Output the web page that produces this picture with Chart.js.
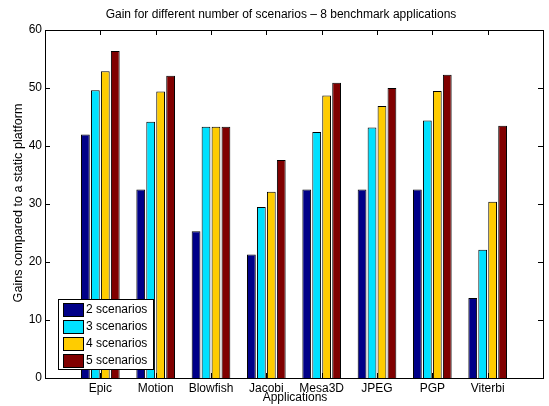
<!DOCTYPE html>
<html>
<head>
<meta charset="utf-8">
<script src="https://cdn.jsdelivr.net/npm/chart.js@4"></script>
<style>
  html, body { margin: 0; padding: 0; background: #fff; }
  #wrap { width: 549px; height: 406px; }
</style>
</head>
<body>
<div id="wrap"><canvas id="myChart" width="549" height="406"></canvas></div>
<script>
// data
var apps = ['Epic', 'Motion', 'Blowfish', 'Jacobi', 'Mesa3D', 'JPEG', 'PGP', 'Viterbi']
var seriesNames = ['2 scenarios', '3 scenarios', '4 scenarios', '5 scenarios']
var s2 = [42.0, 32.5, 25.3, 21.3, 32.5, 32.5, 32.5, 13.8]
var s3 = [49.6, 44.2, 43.3, 29.5, 42.4, 43.2, 44.4, 22.1]
var s4 = [52.9, 49.4, 43.3, 32.1, 48.7, 46.9, 49.5, 30.4]
var s5 = [56.4, 52.1, 43.3, 37.6, 50.9, 50.0, 52.3, 43.5]
var yTicks = [0, 10, 20, 30, 40, 50, 60]

var colors = ['#000088', '#00E1FF', '#FFCC00', '#800000']
var fonte = '"Liberation Sans", Arial, Helvetica, sans-serif'

function pontos(vals){
    return vals.map(function(v, i){ return {x: i + 1, y: v} })
}

var datasets = [s2, s3, s4, s5].map(function(vals, k){
    return {
        label: seriesNames[k],
        data: pontos(vals),
        backgroundColor: colors[k],
        borderColor: '#000',
        borderWidth: 1,
        categoryPercentage: 0.72,
        barPercentage: 0.88
    }
})

// box, inward ticks, titles and legend (matlab style)
var extras = {
    id: 'extras',
    afterDraw: function(chart){
        var ctx = chart.ctx
        var a = chart.chartArea
        var xs = chart.scales.x
        var ys = chart.scales.y
        ctx.save()
        ctx.strokeStyle = '#000'
        ctx.lineWidth = 1
        ctx.strokeRect(Math.round(a.left) + 0.5, Math.round(a.top) + 0.5,
            Math.round(a.right - a.left), Math.round(a.bottom - a.top))
        ctx.beginPath()
        yTicks.forEach(function(t){
            var y = Math.round(ys.getPixelForValue(t)) + 0.5
            ctx.moveTo(a.left, y); ctx.lineTo(a.left + 5, y)
            ctx.moveTo(a.right, y); ctx.lineTo(a.right - 5, y)
        })
        apps.forEach(function(n, i){
            var x = Math.round(xs.getPixelForValue(i + 1)) + 0.5
            ctx.moveTo(x, a.top); ctx.lineTo(x, a.top + 5)
            ctx.moveTo(x, a.bottom); ctx.lineTo(x, a.bottom - 5)
        })
        ctx.stroke()

        ctx.fillStyle = '#000'
        ctx.font = '12px ' + fonte
        ctx.textAlign = 'center'
        ctx.textBaseline = 'middle'
        ctx.fillText('Gain for different number of scenarios \u2013 8 benchmark applications', 281, 15)
        ctx.fillText('Applications', 295, 398)
        ctx.save()
        ctx.font = '12.6px ' + fonte
        ctx.translate(19, 203)
        ctx.rotate(-Math.PI / 2)
        ctx.fillText('Gains compared to a static platform', 0, 0)
        ctx.restore()

        // legenda
        ctx.fillStyle = '#fff'
        ctx.fillRect(58, 299, 95, 70)
        ctx.strokeRect(58.5, 299.5, 95, 70)
        ctx.textAlign = 'left'
        seriesNames.forEach(function(n, k){
            var y = 303 + k * 17
            ctx.fillStyle = colors[k]
            ctx.fillRect(63, y, 20, 13)
            ctx.strokeRect(63.5, y + 0.5, 20, 13)
            ctx.fillStyle = '#000'
            ctx.fillText(n, 86, y + 7)
        })
        ctx.restore()
    }
}

new Chart(document.getElementById('myChart'), {
    type: 'bar',
    data: { datasets: datasets },
    options: {
        responsive: false,
        animation: false,
        layout: { padding: { top: 30, right: 6, left: 0, bottom: 0 } },
        plugins: {
            legend: { display: false },
            title: { display: false },
            tooltip: { enabled: false }
        },
        scales: {
            x: {
                type: 'linear',
                min: 0,
                max: 9,
                offset: false,
                grid: { display: false, drawTicks: false },
                border: { display: false },
                ticks: {
                    stepSize: 1,
                    autoSkip: false,
                    maxRotation: 0,
                    padding: 3,
                    color: '#000',
                    font: { size: 12, family: fonte },
                    callback: function(v){ return (v >= 1 && v <= 8) ? apps[v - 1] : '' }
                },
                afterFit: function(s){ s.height = 28 }
            },
            y: {
                min: 0,
                max: 60,
                grid: { display: false, drawTicks: false },
                border: { display: false },
                ticks: {
                    stepSize: 10,
                    padding: 3,
                    color: '#000',
                    font: { size: 12, family: fonte }
                },
                afterFit: function(s){ s.width = 45 }
            }
        }
    },
    plugins: [extras]
})
</script>
</body>
</html>
